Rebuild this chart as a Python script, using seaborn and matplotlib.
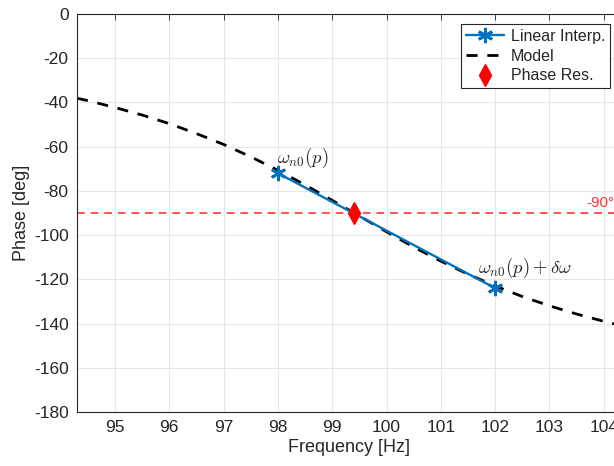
import matplotlib
matplotlib.use("Agg")
import matplotlib.pyplot as plt
import seaborn as sns
import pandas as pd

# Model curve
model_freq = [94.3, 94.5, 95.0, 95.5, 96.0, 96.5, 97.0, 97.5, 98.0, 98.5, 99.0, 99.5,
              100.0, 100.5, 101.0, 101.5, 102.0, 102.5, 103.0, 103.5, 104.0, 104.3]
model_phase = [-38.1, -39.2, -42.3, -45.7, -49.6, -54.1, -59.0, -64.6, -70.7, -77.3, -84.3, -91.4,
               -98.5, -105.4, -111.8, -117.7, -123.0, -127.8, -132.0, -135.7, -139.0, -140.8]

# Linear interpolation between the two measured points
interp_freq = [98.0, 102.0]
interp_phase = [-72.0, -124.0]

# Phase resonance estimate
res_freq = [99.4]
res_phase = [-90.0]

sns.set_style("whitegrid")
plt.rcParams['font.family'] = ['Liberation Sans', 'DejaVu Sans']
plt.rcParams['mathtext.fontset'] = 'cm'
plt.rcParams['axes.unicode_minus'] = False

fig = plt.figure(figsize=(6.14, 4.66), dpi=100)
# axes runs a bit past the right edge of the image, like the reference
ax = fig.add_axes([0.1254, 0.116, 0.8844, 0.854])

df_model = pd.DataFrame({'f': model_freq, 'p': model_phase})
df_lin = pd.DataFrame({'f': interp_freq, 'p': interp_phase})

sns.lineplot(data=df_lin, x='f', y='p', ax=ax, color='#0072BD', lw=1.7, marker=(6, 2, 0),
             markersize=11, markeredgewidth=2, markeredgecolor='#0072BD',
             label='Linear Interp.', zorder=3)
sns.lineplot(data=df_model, x='f', y='p', ax=ax, color='black', lw=2,
             dashes=(4, 3.5), label='Model', zorder=2)
ax.axhline(-90, color='#ff4040', lw=1.4, ls=(0, (4, 3)), alpha=0.9, zorder=1)
ax.text(104.19, -88.5, '-90°', color='#ff3030', fontsize=11, ha='right', va='bottom')
ax.plot(res_freq, res_phase, ls='none', marker='d', color='red', markersize=11,
        label='Phase Res.', zorder=4)

ax.text(97.98, -65, r'$\omega_{n0}(p)$', fontsize=13.5, ha='left', va='center')
ax.text(101.68, -115, r'$\omega_{n0}(p) + \delta\omega$', fontsize=13.5, ha='left', va='center')

ax.set_xlim(94.3, 104.3)
ax.set_ylim(-180, 0)
ax.set_xticks(range(95, 105))
ax.set_yticks(range(-180, 1, 20))
ax.set_xlabel('Frequency [Hz]', fontsize=13, color='#262626', labelpad=3)
ax.set_ylabel('Phase [deg]', fontsize=13, color='#262626', labelpad=3)
ax.tick_params(labelsize=12.5, labelcolor='#262626', color='#262626', direction='in',
               length=4, width=0.6, pad=6, top=True, right=True)
ax.grid(True, color='#e6e6e6', lw=0.8)
for s in ax.spines.values():
    s.set_color('#262626')
    s.set_linewidth(0.8)

leg = ax.legend(loc='upper right', bbox_to_anchor=(610 / 614, 1 - 24 / 466),
                bbox_transform=fig.transFigure, borderaxespad=0,
                fontsize=11.5, frameon=True, fancybox=False, framealpha=1,
                edgecolor='#262626', handlelength=2.4, handletextpad=0.4,
                labelspacing=0.3, borderpad=0.3)
leg.get_frame().set_linewidth(0.8)

fig.savefig('out.png', dpi=100)
